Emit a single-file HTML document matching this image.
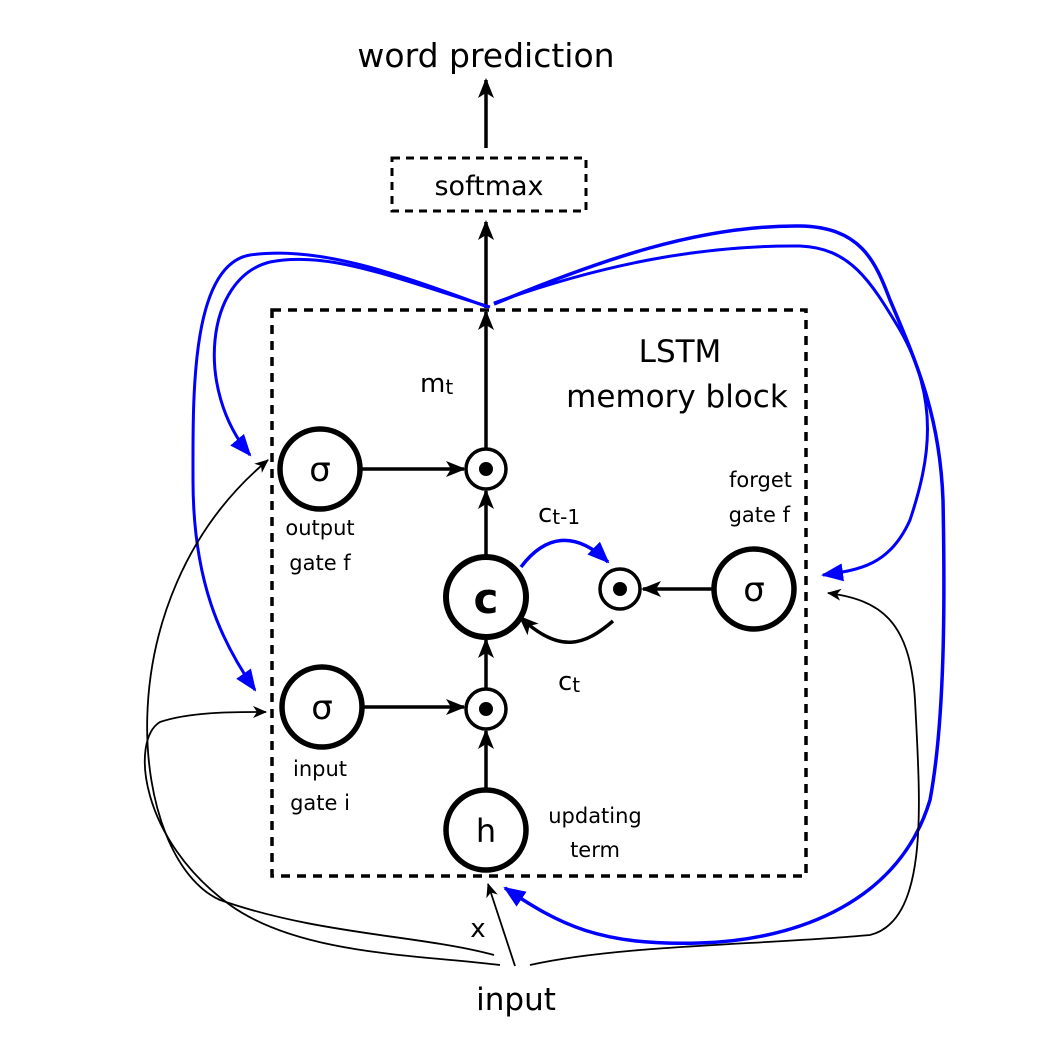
<!DOCTYPE html>
<html><head><meta charset="utf-8"><style>
html,body{margin:0;padding:0;background:#fff;}
svg{display:block;}
text{font-family:"DejaVu Sans","Liberation Sans",sans-serif;fill:#000;}
</style></head><body>
<svg width="1058" height="1050" viewBox="0 0 1058 1050" xmlns="http://www.w3.org/2000/svg">
<defs>
<marker id="abig" markerWidth="20" markerHeight="20" refX="18" refY="10" orient="auto" markerUnits="userSpaceOnUse" viewBox="0 0 20 20"><path d="M0,2 L20,10 L0,18 L5,10 z" fill="#000"/></marker>
<marker id="ablue" markerWidth="22" markerHeight="22" refX="20" refY="11" orient="auto" markerUnits="userSpaceOnUse" viewBox="0 0 22 22"><path d="M0,2 L22,11 L0,20 z" fill="#0000ff"/></marker>
<marker id="asm" markerWidth="14" markerHeight="14" refX="13" refY="7" orient="auto" markerUnits="userSpaceOnUse" viewBox="0 0 14 14"><path d="M0,1 L14,7 L0,13 L4,7 z" fill="#000"/></marker>
</defs>

<text x="486" y="67" font-size="33" text-anchor="middle">word prediction</text>
<line x1="486" y1="148" x2="486" y2="80" stroke="#000" stroke-width="3.5" marker-end="url(#abig)"/>
<rect x="392" y="158" width="194" height="53" fill="none" stroke="#000" stroke-width="3" stroke-dasharray="8,6"/>
<text x="489" y="195" font-size="27" text-anchor="middle">softmax</text>
<line x1="486" y1="308" x2="486" y2="222" stroke="#000" stroke-width="3.5" marker-end="url(#abig)"/>

<rect x="272" y="310" width="534" height="566" fill="none" stroke="#000" stroke-width="3.5" stroke-dasharray="9,7"/>
<text x="680" y="362" font-size="31" text-anchor="middle">LSTM</text>
<text x="677" y="407" font-size="31" text-anchor="middle">memory block</text>
<text x="420" y="392" font-size="26">m<tspan font-size="20" dy="2">t</tspan></text>

<line x1="486" y1="448" x2="486" y2="312" stroke="#000" stroke-width="3.5" marker-end="url(#abig)"/>
<line x1="486" y1="555" x2="486" y2="491" stroke="#000" stroke-width="3.5" marker-end="url(#abig)"/>
<line x1="486" y1="688" x2="486" y2="640" stroke="#000" stroke-width="3.5" marker-end="url(#abig)"/>
<line x1="486" y1="788" x2="486" y2="731" stroke="#000" stroke-width="3.5" marker-end="url(#abig)"/>
<line x1="362" y1="469" x2="464" y2="469" stroke="#000" stroke-width="3.5" marker-end="url(#abig)"/>
<line x1="364" y1="707" x2="464" y2="707" stroke="#000" stroke-width="3.5" marker-end="url(#abig)"/>
<line x1="712" y1="589" x2="643" y2="589" stroke="#000" stroke-width="3.5" marker-end="url(#abig)"/>

<circle cx="320" cy="469" r="40" fill="#fff" stroke="#000" stroke-width="5.5"/>
<text x="320" y="481" font-size="34" text-anchor="middle">σ</text>
<circle cx="322" cy="707" r="40" fill="#fff" stroke="#000" stroke-width="5.5"/>
<text x="322" y="719" font-size="34" text-anchor="middle">σ</text>
<circle cx="754" cy="589" r="40" fill="#fff" stroke="#000" stroke-width="5.5"/>
<text x="754" y="601" font-size="34" text-anchor="middle">σ</text>
<circle cx="486" cy="597" r="40" fill="#fff" stroke="#000" stroke-width="6"/>
<text x="486" y="613" font-size="42" font-weight="bold" text-anchor="middle">c</text>
<circle cx="486" cy="830" r="40" fill="#fff" stroke="#000" stroke-width="5.5"/>
<text x="486" y="842" font-size="32" text-anchor="middle">h</text>
<circle cx="486" cy="469" r="20" fill="#fff" stroke="#000" stroke-width="3.5"/><circle cx="486" cy="469" r="7" fill="#000"/>
<circle cx="486" cy="709" r="20" fill="#fff" stroke="#000" stroke-width="3.5"/><circle cx="486" cy="709" r="7" fill="#000"/>
<circle cx="620" cy="589" r="20" fill="#fff" stroke="#000" stroke-width="3.5"/><circle cx="620" cy="589" r="7" fill="#000"/>

<path d="M521,567 C545,535 575,530 608,562" fill="none" stroke="#0000ff" stroke-width="3.5" marker-end="url(#ablue)"/>
<path d="M613,621 C585,645 560,655 520,617" fill="none" stroke="#000" stroke-width="3.5" marker-end="url(#abig)"/>
<text x="538" y="522" font-size="26">c<tspan font-size="20" dy="2">t-1</tspan></text>
<text x="558" y="690" font-size="26">c<tspan font-size="20" dy="2">t</tspan></text>

<text x="320" y="535" font-size="21" text-anchor="middle">output</text>
<text x="320" y="570" font-size="21" text-anchor="middle">gate f</text>
<text x="320" y="776" font-size="21" text-anchor="middle">input</text>
<text x="320" y="810" font-size="21" text-anchor="middle">gate i</text>
<text x="792" y="487" font-size="21" text-anchor="end">forget</text>
<text x="790" y="522" font-size="21" text-anchor="end">gate f</text>
<text x="595" y="823" font-size="21" text-anchor="middle">updating</text>
<text x="595" y="857" font-size="21" text-anchor="middle">term</text>
<text x="478" y="937" font-size="26" text-anchor="middle">x</text>
<text x="516" y="1010" font-size="31" text-anchor="middle">input</text>

<path d="M490,307 C400,280 330,250 270,262 C205,278 195,390 250,455" fill="none" stroke="#0000ff" stroke-width="3" marker-end="url(#ablue)"/>
<path d="M488,307 C400,275 320,245 250,255 C190,265 193,400 193,480 C193,580 220,640 255,690" fill="none" stroke="#0000ff" stroke-width="3" marker-end="url(#ablue)"/>
<path d="M494,303 C600,265 700,245 800,246 C850,248 870,280 900,330 C940,400 930,460 910,520 C890,565 860,570 823,575" fill="none" stroke="#0000ff" stroke-width="3" marker-end="url(#ablue)"/>
<path d="M494,304 C600,260 700,225 800,226 C860,227 875,260 890,300 C920,370 940,420 943,500 C945,600 945,720 930,800 C900,900 800,940 700,943 C600,946 560,925 505,888" fill="none" stroke="#0000ff" stroke-width="3.5" marker-end="url(#ablue)"/>

<path d="M494,955 C420,935 320,935 220,900 C130,860 100,600 268,460" fill="none" stroke="#000" stroke-width="1.8" marker-end="url(#asm)"/>
<path d="M500,965 C420,955 300,955 230,905 C140,840 130,740 160,722 C190,712 230,712 266,712" fill="none" stroke="#000" stroke-width="1.8" marker-end="url(#asm)"/>
<line x1="515" y1="966" x2="488" y2="884" stroke="#000" stroke-width="1.8" marker-end="url(#asm)"/>
<path d="M530,965 C620,945 760,945 870,935 C930,920 920,800 915,700 C910,620 880,600 828,593" fill="none" stroke="#000" stroke-width="1.8" marker-end="url(#asm)"/>
</svg>
</body></html>
